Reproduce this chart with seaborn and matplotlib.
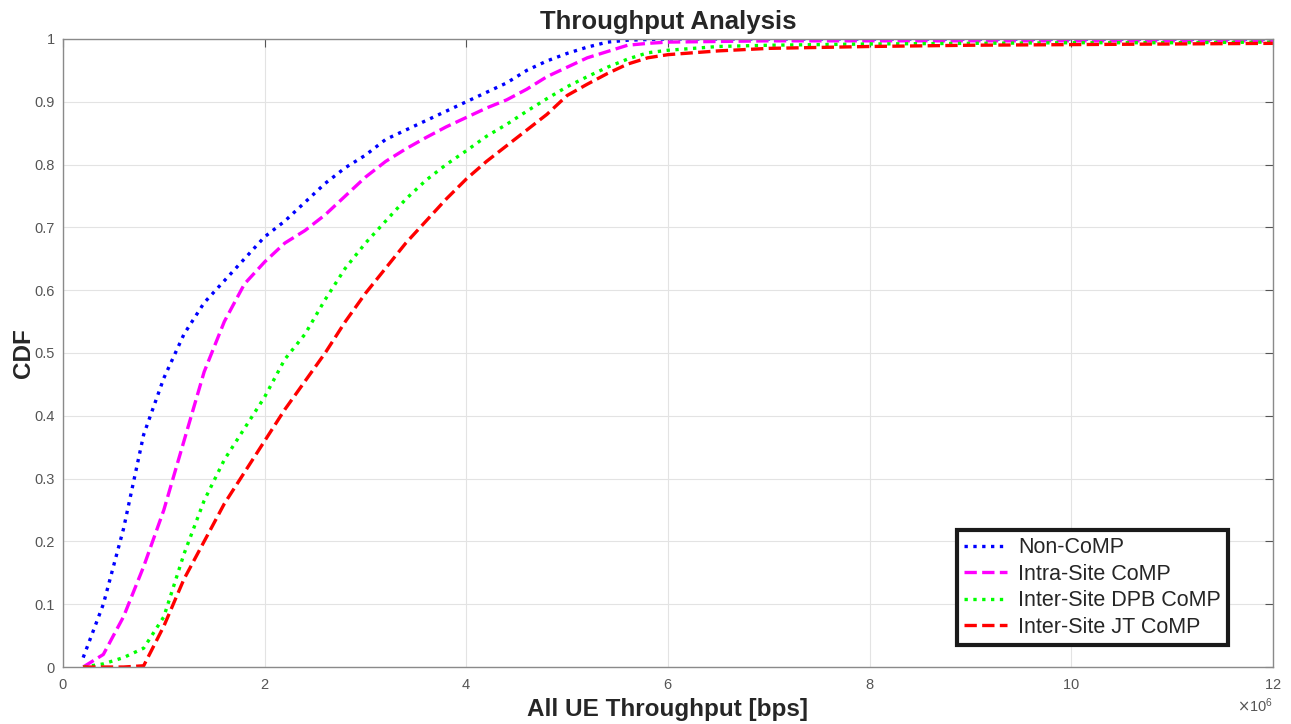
import matplotlib
matplotlib.use("Agg")
import matplotlib.pyplot as plt
import matplotlib.ticker as mticker
import seaborn as sns
import pandas as pd

# throughput sample points (x 1e6 bps)
x_mbps = [0.2, 0.4, 0.6, 0.8, 1.0, 1.2, 1.4, 1.6, 1.8, 2.0,
          2.2, 2.4, 2.6, 2.8, 3.0, 3.2, 3.4, 3.6, 3.8, 4.0,
          4.2, 4.4, 4.6, 4.8, 5.0, 5.2, 5.4, 5.6, 5.8, 6.0,
          6.5, 7.0, 8.0, 9.0, 10.0, 11.0, 12.0]

cdf_non_comp = [0.015, 0.10, 0.22, 0.37, 0.46, 0.53, 0.58, 0.615, 0.65, 0.685,
                0.71, 0.74, 0.77, 0.795, 0.815, 0.84, 0.855, 0.87, 0.885, 0.90,
                0.915, 0.93, 0.95, 0.965, 0.977, 0.987, 0.995, 0.998, 0.999, 1.0,
                1.0, 1.0, 1.0, 1.0, 1.0, 1.0, 1.0]

cdf_intra = [0.0, 0.02, 0.08, 0.16, 0.25, 0.36, 0.47, 0.55, 0.61, 0.645,
             0.675, 0.695, 0.72, 0.75, 0.78, 0.805, 0.825, 0.843, 0.86, 0.875,
             0.89, 0.903, 0.92, 0.94, 0.955, 0.97, 0.98, 0.99, 0.993, 0.995,
             0.996, 0.997, 0.997, 0.997, 0.997, 0.997, 0.997]

cdf_dpb = [0.0, 0.005, 0.015, 0.03, 0.08, 0.18, 0.265, 0.33, 0.38, 0.43,
           0.49, 0.53, 0.585, 0.635, 0.675, 0.71, 0.745, 0.775, 0.80, 0.822,
           0.845, 0.864, 0.885, 0.905, 0.924, 0.94, 0.955, 0.968, 0.978, 0.982,
           0.988, 0.99, 0.992, 0.993, 0.994, 0.994, 0.995]

cdf_jt = [0.0, 0.0, 0.0, 0.002, 0.065, 0.14, 0.20, 0.26, 0.31, 0.36,
          0.41, 0.455, 0.50, 0.55, 0.595, 0.635, 0.675, 0.71, 0.745, 0.777,
          0.805, 0.83, 0.855, 0.88, 0.91, 0.928, 0.945, 0.96, 0.97, 0.975,
          0.981, 0.985, 0.988, 0.99, 0.991, 0.992, 0.993]

series_names = ["Non-CoMP", "Intra-Site CoMP", "Inter-Site DPB CoMP", "Inter-Site JT CoMP"]
series_colors = ["#0000ff", "#ff00ff", "#00ff00", "#ff0000"]
series_styles = [":", "--", ":", "--"]

sns.set_style("white")
plt.rcParams["font.family"] = ["Liberation Sans", "DejaVu Sans"]

fig = plt.figure(figsize=(12.91, 7.24), dpi=100)
ax = fig.add_axes([0.0488, 0.0787, 0.9372, 0.8675])

all_cdfs = [cdf_non_comp, cdf_intra, cdf_dpb, cdf_jt]
for name, vals, col, ls in zip(series_names, all_cdfs, series_colors, series_styles):
    df = pd.DataFrame({"x": [v * 1e6 for v in x_mbps], "cdf": vals})
    sns.lineplot(data=df, x="x", y="cdf", ax=ax, color=col, linestyle=ls,
                 linewidth=2.4, label=name)

ax.set_xlim(0, 12e6)
ax.set_ylim(0, 1)
ax.set_xticks([i * 2e6 for i in range(7)])
ax.set_yticks([i / 10 for i in range(11)])
ax.set_yticklabels(["0", "0.1", "0.2", "0.3", "0.4", "0.5", "0.6", "0.7", "0.8", "0.9", "1"])

fmt = mticker.ScalarFormatter(useMathText=True)
fmt.set_powerlimits((6, 6))
ax.xaxis.set_major_formatter(fmt)
ax.xaxis.get_offset_text().set_fontsize(10.5)
ax.xaxis.get_offset_text().set_color("#555555")

ax.grid(True, color="#e3e3e3", linewidth=0.8)
ax.tick_params(direction="in", length=6, width=0.8, colors="#555555",
               labelsize=10.5, top=True, right=True, labelcolor="#555555")
ax.tick_params(axis="x", pad=8)
ax.tick_params(axis="y", pad=6)
for sp in ax.spines.values():
    sp.set_color("#8a8a8a")
    sp.set_linewidth(1.0)

ax.set_title("Throughput Analysis", fontsize=18.5, fontweight="bold", pad=7)
ax.set_xlabel("All UE Throughput [bps]", fontsize=17.5, fontweight="bold", labelpad=4)
ax.set_ylabel("CDF", fontsize=17.5, fontweight="bold")
ax.yaxis.set_label_coords(-0.0235, 0.5)

leg = ax.legend(loc="lower right", bbox_to_anchor=(0.963, 0.035), fontsize=15.5,
                frameon=True, fancybox=False, framealpha=1.0, handlelength=2.0,
                handletextpad=0.5, borderpad=0.35, labelspacing=0.25, borderaxespad=0)
leg.get_frame().set_edgecolor("#1a1a1a")
leg.get_frame().set_linewidth(3)

fig.savefig("out.png", dpi=100)
